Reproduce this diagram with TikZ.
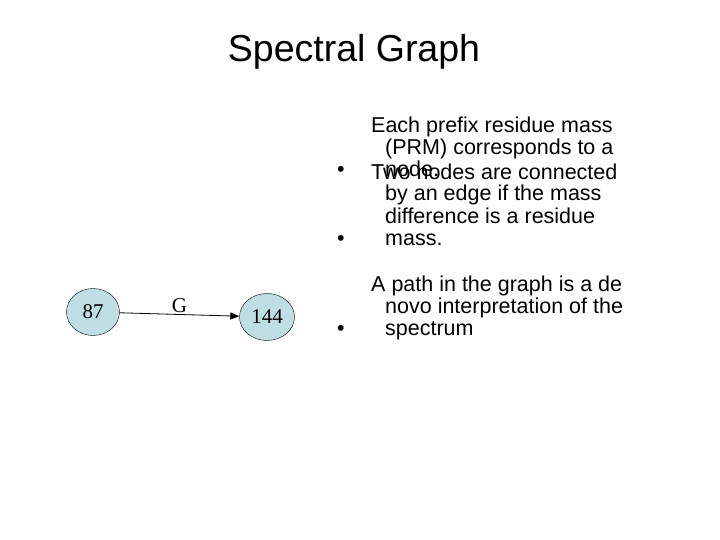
\documentclass[tikz,border=0pt]{standalone}
\usepackage{fontspec}
\setmainfont{Liberation Sans}
\newfontfamily\serifnum{Liberation Serif}
\usetikzlibrary{arrows.meta,shapes.geometric}
\definecolor{nodefill}{RGB}{190,222,228}
\begin{document}
\begin{tikzpicture}[x=1pt,y=-1pt,
  vert/.style={ellipse,draw,fill=nodefill,minimum width=53pt,minimum height=47pt,inner sep=0pt,font=\serifnum\fontsize{21}{22}\selectfont},
  bl/.style={anchor=base west,align=left,font=\fontsize{21.5}{22}\selectfont,inner sep=0pt}]
\useasboundingbox (0,0) rectangle (720,540);
\node (t) at (354,52) {\fontsize{37.5}{40}\selectfont Spectral Graph};
\node[vert] (a) at (93,312) {87};
\node[vert,minimum width=55pt] (b) at (267,317) {144};
\draw[thick,-{Triangle[length=9pt,width=7pt]}] (a) -- node[above=-2pt,font=\serifnum\fontsize{21}{22}\selectfont] (g) {G} (b);
\node[bl] (b1) at (337,177) {•};
\node[bl] (t1) at (371,177) {Each prefix residue mass\\\hspace*{14pt}(PRM) corresponds to a\\\hspace*{14pt}node.};
\node[bl] (b2) at (337,245) {•};
\node[bl] (t2) at (371,245) {Two nodes are connected\\\hspace*{14pt}by an edge if the mass\\\hspace*{14pt}difference is a residue\\\hspace*{14pt}mass.};
\node[bl] (b3) at (337,335) {•};
\node[bl] (t3) at (371,335) {A path in the graph is a de\\\hspace*{14pt}novo interpretation of the\\\hspace*{14pt}spectrum};
\end{tikzpicture}
\end{document}
